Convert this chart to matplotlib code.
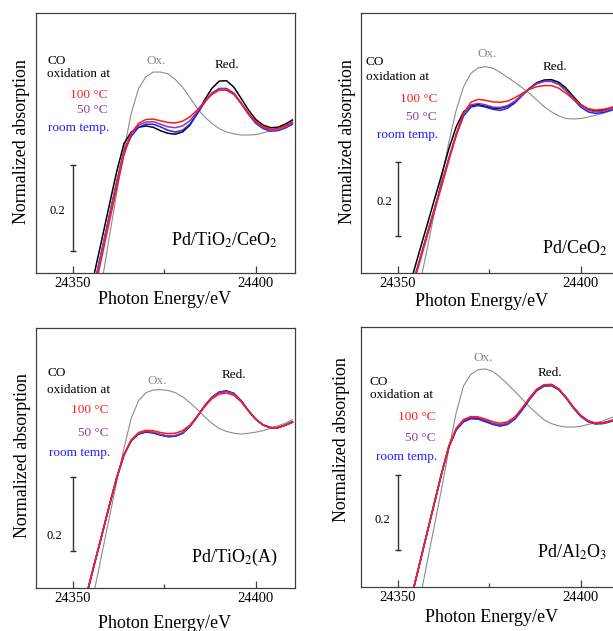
import matplotlib.pyplot as plt

plt.rcParams['font.family'] = ['Liberation Serif', 'DejaVu Serif']
plt.rcParams['mathtext.fontset'] = 'stix'

# photon energy grid (eV)
energy = [24354, 24356, 24358, 24360, 24362, 24364, 24366, 24368, 24370, 24372,
          24374, 24376, 24378, 24380, 24382, 24384, 24386, 24388, 24390, 24392,
          24394, 24396, 24398, 24400, 24402, 24404, 24406, 24408, 24410]

# Pd/TiO2/CeO2
tc_ox = [0.430, 0.533, 0.636, 0.740, 0.841, 0.942, 1.027, 1.085, 1.112, 1.123,
         1.123, 1.119, 1.106, 1.088, 1.064, 1.039, 1.019, 1.004, 0.992, 0.984,
         0.980, 0.977, 0.977, 0.978, 0.982, 0.987, 0.993, 1.001, 1.009]
tc_red = [0.581, 0.659, 0.736, 0.814, 0.891, 0.957, 0.984, 0.995, 0.998, 0.995,
          0.987, 0.981, 0.979, 0.984, 1.000, 1.027, 1.058, 1.085, 1.102, 1.103,
          1.088, 1.062, 1.035, 1.013, 1.000, 0.994, 0.995, 1.002, 1.012]
tc_100 = [0.539, 0.618, 0.695, 0.775, 0.853, 0.930, 0.981, 1.004, 1.013, 1.014,
          1.010, 1.006, 1.005, 1.009, 1.019, 1.035, 1.054, 1.071, 1.081, 1.081,
          1.071, 1.050, 1.027, 1.008, 0.996, 0.991, 0.992, 0.998, 1.007]
tc_50 = [0.554, 0.633, 0.711, 0.789, 0.867, 0.942, 0.981, 1.000, 1.007, 1.008,
         1.002, 0.996, 0.994, 0.998, 1.010, 1.031, 1.054, 1.074, 1.084, 1.084,
         1.074, 1.052, 1.027, 1.007, 0.995, 0.988, 0.989, 0.995, 1.005]
tc_rt = [0.554, 0.633, 0.711, 0.789, 0.867, 0.938, 0.974, 0.995, 1.002, 1.002,
         0.996, 0.988, 0.984, 0.988, 1.002, 1.026, 1.052, 1.074, 1.085, 1.085,
         1.074, 1.050, 1.025, 1.004, 0.992, 0.986, 0.987, 0.993, 1.002]

# Pd/CeO2
ce_ox = [0.425, 0.527, 0.622, 0.721, 0.815, 0.914, 1.000, 1.063, 1.099, 1.114,
         1.117, 1.113, 1.102, 1.088, 1.075, 1.060, 1.045, 1.027, 1.009, 0.995,
         0.984, 0.977, 0.976, 0.977, 0.981, 0.986, 0.991, 0.997, 1.004]
ce_red = [0.551, 0.620, 0.688, 0.757, 0.825, 0.896, 0.955, 0.995, 1.012, 1.015,
          1.010, 1.005, 1.005, 1.010, 1.023, 1.041, 1.059, 1.074, 1.081, 1.082,
          1.075, 1.059, 1.036, 1.015, 1.002, 0.997, 0.999, 1.005, 1.011]
ce_100 = [0.520, 0.588, 0.657, 0.725, 0.794, 0.865, 0.932, 0.991, 1.021, 1.029,
          1.026, 1.022, 1.021, 1.024, 1.033, 1.045, 1.056, 1.063, 1.066, 1.066,
          1.059, 1.045, 1.029, 1.014, 1.004, 1.000, 1.002, 1.006, 1.012]
ce_50 = [0.527, 0.595, 0.664, 0.732, 0.801, 0.871, 0.937, 0.991, 1.014, 1.018,
         1.014, 1.008, 1.007, 1.012, 1.024, 1.041, 1.058, 1.071, 1.077, 1.077,
         1.069, 1.053, 1.032, 1.013, 1.000, 0.995, 0.997, 1.003, 1.008]
ce_rt = [0.527, 0.595, 0.664, 0.732, 0.801, 0.869, 0.932, 0.984, 1.008, 1.012,
         1.008, 1.002, 0.999, 1.005, 1.019, 1.039, 1.058, 1.072, 1.078, 1.078,
         1.070, 1.052, 1.029, 1.008, 0.995, 0.991, 0.993, 0.999, 1.005]

# Pd/TiO2(A)
ta_ox = [0.452, 0.550, 0.647, 0.744, 0.840, 0.932, 1.014, 1.061, 1.083, 1.090,
         1.091, 1.089, 1.083, 1.072, 1.056, 1.038, 1.018, 1.000, 0.986, 0.978,
         0.973, 0.971, 0.973, 0.976, 0.980, 0.986, 0.993, 1.000, 1.010]
ta_red = [0.543, 0.621, 0.698, 0.776, 0.851, 0.914, 0.953, 0.971, 0.976, 0.974,
          0.968, 0.964, 0.965, 0.973, 0.991, 1.018, 1.047, 1.070, 1.084, 1.087,
          1.081, 1.061, 1.034, 1.011, 0.995, 0.988, 0.988, 0.995, 1.004]
ta_100 = [0.543, 0.621, 0.698, 0.776, 0.851, 0.915, 0.955, 0.975, 0.981, 0.980,
          0.975, 0.972, 0.973, 0.980, 0.995, 1.019, 1.045, 1.066, 1.079, 1.082,
          1.076, 1.058, 1.033, 1.011, 0.996, 0.989, 0.988, 0.994, 1.002]
ta_50 = [0.543, 0.621, 0.698, 0.776, 0.851, 0.914, 0.954, 0.973, 0.978, 0.976,
         0.970, 0.966, 0.967, 0.975, 0.992, 1.018, 1.046, 1.069, 1.083, 1.086,
         1.080, 1.060, 1.034, 1.011, 0.995, 0.988, 0.988, 0.995, 1.003]
ta_rt = [0.544, 0.622, 0.699, 0.777, 0.852, 0.914, 0.953, 0.972, 0.977, 0.975,
         0.969, 0.964, 0.965, 0.973, 0.991, 1.018, 1.047, 1.070, 1.085, 1.088,
         1.081, 1.061, 1.034, 1.011, 0.995, 0.988, 0.988, 0.995, 1.004]

# Pd/Al2O3
al_ox = [0.424, 0.524, 0.624, 0.723, 0.823, 0.929, 1.027, 1.098, 1.129, 1.141,
         1.143, 1.136, 1.121, 1.103, 1.083, 1.063, 1.042, 1.024, 1.007, 0.997,
         0.991, 0.988, 0.988, 0.990, 0.995, 0.999, 1.004, 1.012, 1.018]
al_red = [0.543, 0.623, 0.704, 0.784, 0.864, 0.936, 0.982, 1.004, 1.012, 1.011,
          1.004, 0.996, 0.991, 0.996, 1.011, 1.036, 1.064, 1.088, 1.100, 1.101,
          1.089, 1.067, 1.040, 1.018, 1.004, 0.998, 0.999, 1.004, 1.011]
al_100 = [0.543, 0.623, 0.704, 0.784, 0.864, 0.938, 0.985, 1.008, 1.016, 1.015,
          1.009, 1.002, 0.998, 1.002, 1.015, 1.039, 1.066, 1.089, 1.101, 1.102,
          1.090, 1.067, 1.041, 1.019, 1.005, 0.998, 0.998, 1.003, 1.010]
al_50 = [0.543, 0.623, 0.704, 0.784, 0.864, 0.937, 0.983, 1.006, 1.014, 1.013,
         1.006, 0.998, 0.994, 0.998, 1.012, 1.037, 1.064, 1.088, 1.100, 1.101,
         1.089, 1.066, 1.040, 1.018, 1.004, 0.998, 0.999, 1.004, 1.010]
al_rt = [0.543, 0.623, 0.704, 0.784, 0.864, 0.935, 0.980, 1.002, 1.010, 1.009,
         1.002, 0.995, 0.991, 0.995, 1.009, 1.033, 1.061, 1.085, 1.097, 1.098,
         1.087, 1.065, 1.038, 1.016, 1.002, 0.996, 0.997, 1.002, 1.009]

W, H = 613, 631
fig = plt.figure(figsize=(W / 100, H / 100), dpi=100)

c_ox, c_red, c_100, c_50, c_rt = '#8c8c8c', 'black', '#ff1a1a', '#8c3fa0', '#1f1fff'


def ftext(px, py, s, **kw):
    # place text at figure pixel coordinates (y from top)
    kw.setdefault('va', 'center')
    fig.text(px / W, 1 - py / H, s, **kw)


# axes box (left, top, right, bottom) in pixels, ylim, scale-bar start
panels = [
    dict(box=(36, 13, 295, 273), ylim=(0.657, 1.26), bar=0.707,
         data=(tc_ox, tc_red, tc_rt, tc_50, tc_100), name='Pd/TiO$_2$/CeO$_2$',
         name_xy=(278, 240), ylab_xy=(22, 142), xlab_xy=(165, 300),
         co_xy=(47, 61, 74), temp_xy=(108, 95, 110, 128), bar_lbl=(57, 211),
         ox_xy=(156, 61), red_xy=(227, 65)),
    dict(box=(361, 13, 620, 273), ylim=(0.560, 1.262), bar=0.659,
         data=(ce_ox, ce_red, ce_rt, ce_50, ce_100), name='Pd/CeO$_2$',
         name_xy=(607, 248), ylab_xy=(347, 142), xlab_xy=(482, 302),
         co_xy=(366, 62, 77), temp_xy=(437, 99, 117, 135), bar_lbl=(384, 202),
         ox_xy=(487, 54), red_xy=(555, 67)),
    dict(box=(36, 328, 295, 588), ylim=(0.554, 1.258), bar=0.655,
         data=(ta_ox, ta_red, ta_rt, ta_50, ta_100), name='Pd/TiO$_2$(A)',
         name_xy=(278, 557), ylab_xy=(23, 456), xlab_xy=(165, 624),
         co_xy=(47, 373, 390), temp_xy=(109, 410, 433, 453), bar_lbl=(54, 536),
         ox_xy=(157, 381), red_xy=(234, 375)),
    dict(box=(361, 327, 620, 587), ylim=(0.561, 1.255), bar=0.661,
         data=(al_ox, al_red, al_rt, al_50, al_100), name='Pd/Al$_2$O$_3$',
         name_xy=(607, 552), ylab_xy=(341, 440), xlab_xy=(492, 617),
         co_xy=(370, 382, 395), temp_xy=(436, 417, 438, 457), bar_lbl=(382, 520),
         ox_xy=(483, 358), red_xy=(550, 373)),
]

for p in panels:
    l, t, r, b = p['box']
    ax = fig.add_axes([l / W, 1 - b / H, (r - l) / W, (b - t) / H])
    ox, red, rt, c50, c100 = p['data']
    ax.plot(energy, ox, color=c_ox, lw=0.8)
    ax.plot(energy, red, color=c_red, lw=1.1)
    ax.plot(energy, rt, color=c_rt, lw=1.1)
    ax.plot(energy, c50, color=c_50, lw=1.1)
    ax.plot(energy, c100, color=c_100, lw=1.1)

    # 0.2 scale bar
    y0 = p['bar']
    ax.plot([24350, 24350], [y0, y0 + 0.2], color='#333333', lw=1.0,
            marker='_', ms=5, mew=1.0)

    ax.set_xlim(24340, 24410.7)
    ax.set_ylim(*p['ylim'])
    ax.set_xticks([24350, 24400])
    ax.set_xticklabels(['24350', '24400'], fontsize=10.5)
    ax.set_xticks([24375], minor=True)
    ax.tick_params(axis='x', which='major', direction='in', length=5,
                   width=0.9, pad=3, color='#404040')
    ax.tick_params(axis='x', which='minor', direction='in', length=3,
                   width=0.9, color='#404040')
    ax.set_yticks([])
    for s in ax.spines.values():
        s.set_color('#404040')
        s.set_linewidth(0.9)

    ftext(*p['name_xy'], p['name'], ha='right', fontsize=13)
    ftext(*p['ylab_xy'], 'Normalized absorption', ha='center', rotation=90,
          fontsize=13)
    ftext(*p['xlab_xy'], 'Photon Energy/eV', ha='center', fontsize=13)
    cx, cy1, cy2 = p['co_xy']
    ftext(cx, cy1, 'CO', ha='left', fontsize=9.5)
    ftext(cx, cy2, 'oxidation at', ha='left', fontsize=9.5)
    tx, ty1, ty2, ty3 = p['temp_xy']
    ftext(tx, ty1, '100 °C', ha='right', fontsize=9.5, color=c_100)
    ftext(tx, ty2, '50 °C', ha='right', fontsize=9.5, color=c_50)
    ftext(tx + 1, ty3, 'room temp.', ha='right', fontsize=9.5, color=c_rt)
    ftext(*p['bar_lbl'], '0.2', ha='center', fontsize=9)
    ftext(*p['ox_xy'], 'Ox.', ha='center', fontsize=9.5, color=c_ox)
    ftext(*p['red_xy'], 'Red.', ha='center', fontsize=9.5)

fig.savefig('out.png', dpi=100, facecolor='white')
